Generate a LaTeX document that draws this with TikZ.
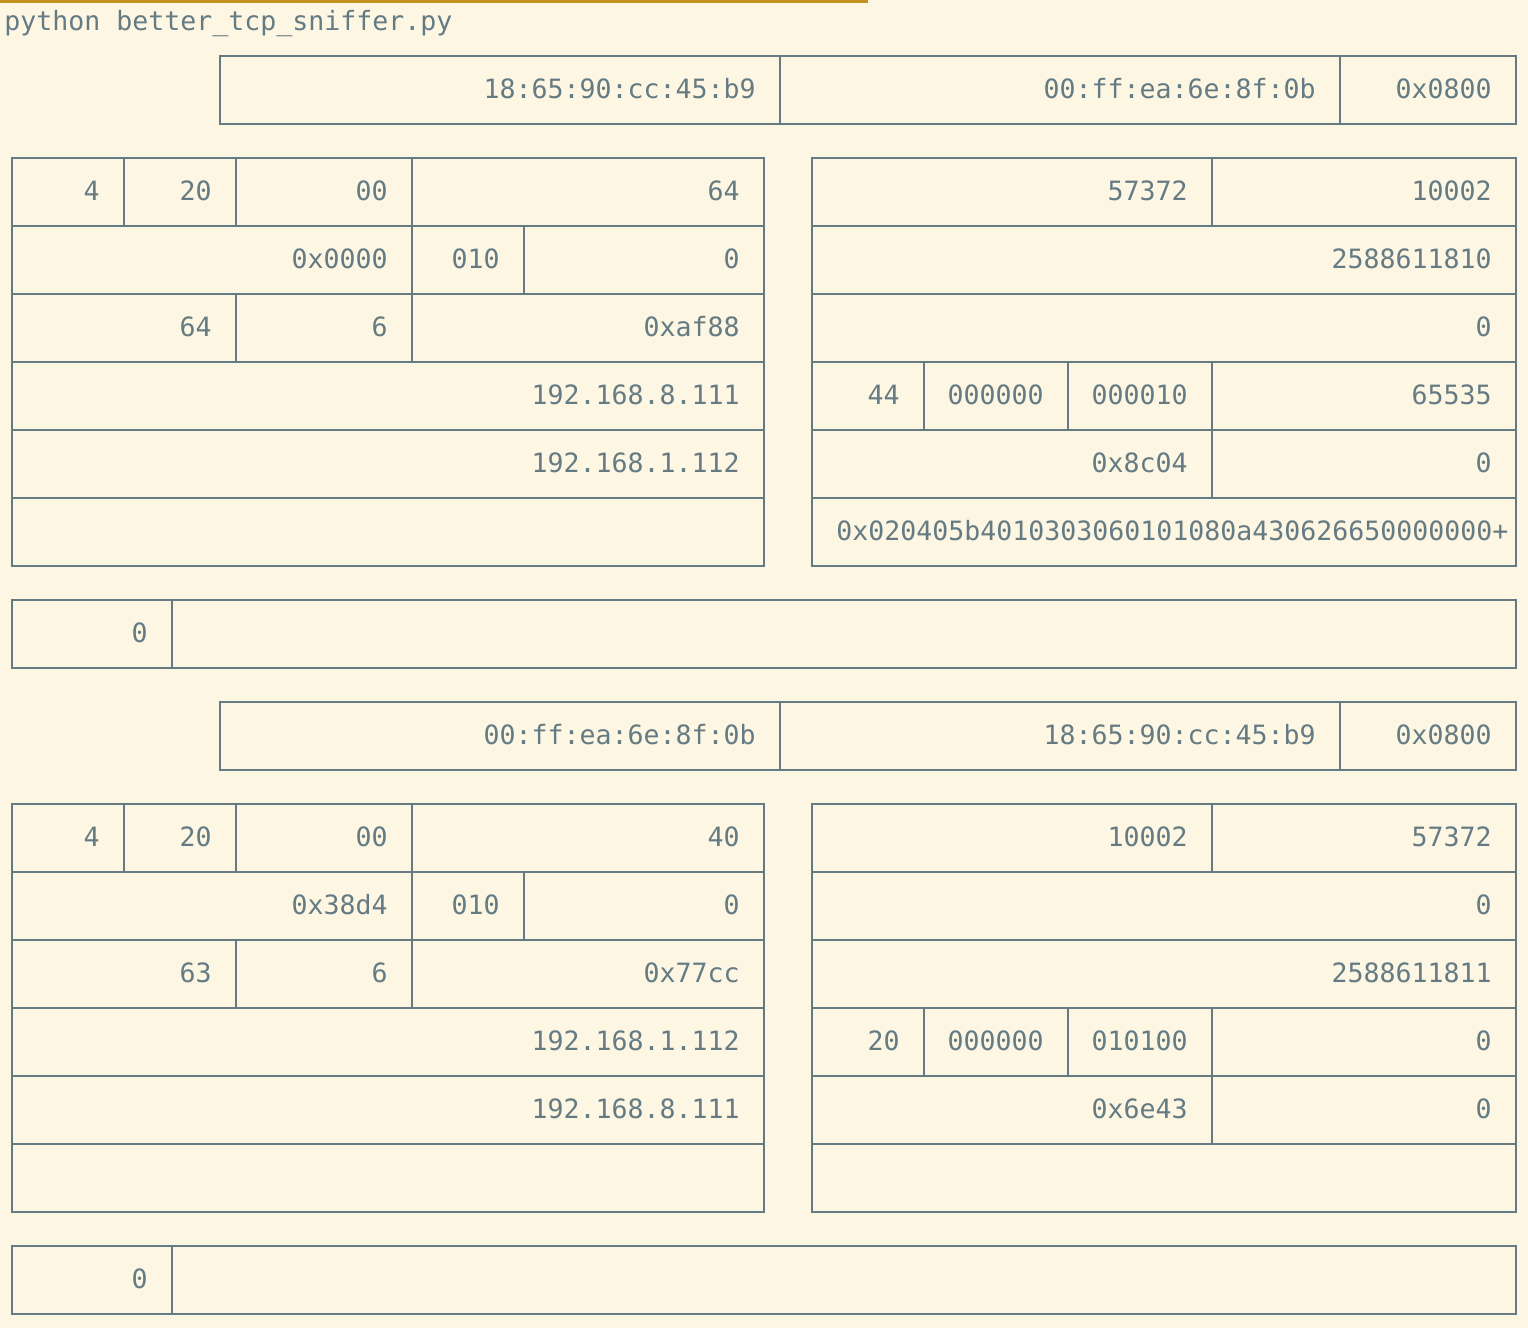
\documentclass[tikz,border=0pt]{standalone}
\usepackage{fontspec}
\newfontfamily\termfont{DejaVu Sans Mono}
\definecolor{bgc}{HTML}{FDF6E3}
\definecolor{ink}{HTML}{657B83}
\definecolor{bar}{RGB}{196,146,32}
\tikzset{
  fieldbox/.style={draw=ink, line width=1.4pt},
  lbl/.style={anchor=base east, inner sep=0pt, text=ink, font=\termfont\fontsize{13.29pt}{16pt}\selectfont},
  lblw/.style={anchor=base west, inner sep=0pt, text=ink, font=\termfont\fontsize{13.29pt}{16pt}\selectfont}
}
% name, x1, x2, ytop, text
\newcommand\fld[5]{%
  \draw[fieldbox] (#2,#4) rectangle (#3,#4+68);
  \node[lbl] (#1) at (#3-24,#4+42) {#5};}
\newcommand\emptyfld[4]{%
  \draw[fieldbox] (#2,#4) rectangle (#3,#4+68);
  \coordinate (#1) at (#2,#4);}
\begin{document}
\begin{tikzpicture}[x=0.5pt,y=-0.5pt]
\useasboundingbox (0,0) rectangle (1528,1328);
\fill[bgc] (0,0) rectangle (1528,1328);
\fill[bar] (0,0) rectangle (868,3);
\node[lblw] (cmd) at (4,30) {python better\_tcp\_sniffer.py};

% ---------- packet 1 ----------
\fld{ea1}{220}{780}{56}{18:65:90:cc:45:b9}
\fld{ea2}{780}{1340}{56}{00:ff:ea:6e:8f:0b}
\fld{ea3}{1340}{1516}{56}{0x0800}

\fld{ia1}{12}{124}{158}{4}
\fld{ia2}{124}{236}{158}{20}
\fld{ia3}{236}{412}{158}{00}
\fld{ia4}{412}{764}{158}{64}
\fld{ia5}{12}{412}{226}{0x0000}
\fld{ia6}{412}{524}{226}{010}
\fld{ia7}{524}{764}{226}{0}
\fld{ia8}{12}{236}{294}{64}
\fld{ia9}{236}{412}{294}{6}
\fld{ia10}{412}{764}{294}{0xaf88}
\fld{ia11}{12}{764}{362}{192.168.8.111}
\fld{ia12}{12}{764}{430}{192.168.1.112}
\emptyfld{ia13}{12}{764}{498}

\fld{ta1}{812}{1212}{158}{57372}
\fld{ta2}{1212}{1516}{158}{10002}
\fld{ta3}{812}{1516}{226}{2588611810}
\fld{ta4}{812}{1516}{294}{0}
\fld{ta5}{812}{924}{362}{44}
\fld{ta6}{924}{1068}{362}{000000}
\fld{ta7}{1068}{1212}{362}{000010}
\fld{ta8}{1212}{1516}{362}{65535}
\fld{ta9}{812}{1212}{430}{0x8c04}
\fld{ta10}{1212}{1516}{430}{0}
\draw[fieldbox] (812,498) rectangle (1516,566);
\node[lblw] (ta11) at (836,540) {0x020405b4010303060101080a430626650000000+};

\fld{pa1}{12}{172}{600}{0}
\emptyfld{pa2}{172}{1516}{600}

% ---------- packet 2 ----------
\fld{eb1}{220}{780}{702}{00:ff:ea:6e:8f:0b}
\fld{eb2}{780}{1340}{702}{18:65:90:cc:45:b9}
\fld{eb3}{1340}{1516}{702}{0x0800}

\fld{ib1}{12}{124}{804}{4}
\fld{ib2}{124}{236}{804}{20}
\fld{ib3}{236}{412}{804}{00}
\fld{ib4}{412}{764}{804}{40}
\fld{ib5}{12}{412}{872}{0x38d4}
\fld{ib6}{412}{524}{872}{010}
\fld{ib7}{524}{764}{872}{0}
\fld{ib8}{12}{236}{940}{63}
\fld{ib9}{236}{412}{940}{6}
\fld{ib10}{412}{764}{940}{0x77cc}
\fld{ib11}{12}{764}{1008}{192.168.1.112}
\fld{ib12}{12}{764}{1076}{192.168.8.111}
\emptyfld{ib13}{12}{764}{1144}

\fld{tb1}{812}{1212}{804}{10002}
\fld{tb2}{1212}{1516}{804}{57372}
\fld{tb3}{812}{1516}{872}{0}
\fld{tb4}{812}{1516}{940}{2588611811}
\fld{tb5}{812}{924}{1008}{20}
\fld{tb6}{924}{1068}{1008}{000000}
\fld{tb7}{1068}{1212}{1008}{010100}
\fld{tb8}{1212}{1516}{1008}{0}
\fld{tb9}{812}{1212}{1076}{0x6e43}
\fld{tb10}{1212}{1516}{1076}{0}
\emptyfld{tb11}{812}{1516}{1144}

\fld{pb1}{12}{172}{1246}{0}
\emptyfld{pb2}{172}{1516}{1246}
\end{tikzpicture}
\end{document}
